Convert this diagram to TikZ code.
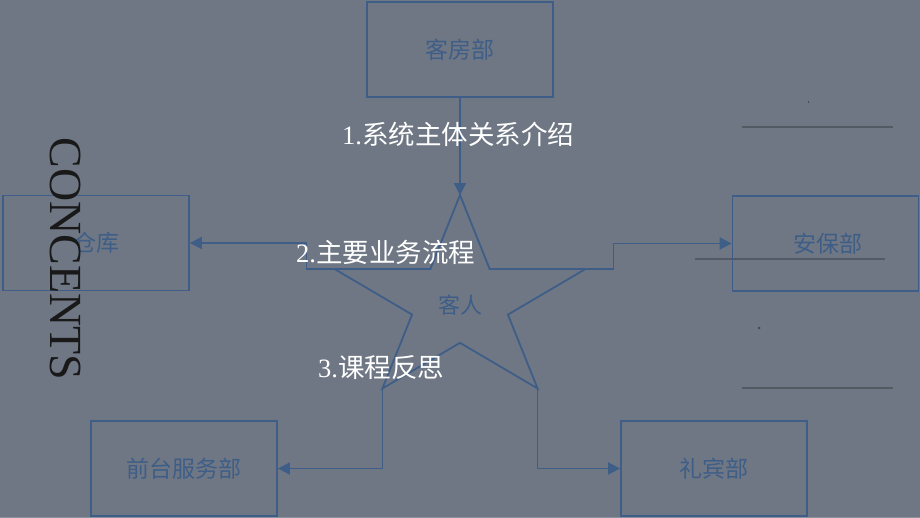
\documentclass[tikz,border=0pt]{standalone}
\usepackage{fontspec}
\setmainfont{Liberation Serif}
\newfontfamily\cjk{Noto Sans CJK SC}
\usetikzlibrary{arrows.meta}
\definecolor{bg}{RGB}{111,119,132}
\definecolor{deptblue}{RGB}{62,94,135}
\definecolor{rulegray}{RGB}{84,90,100}
\tikzset{every picture/.style={x=1pt, y=-1pt}}
\tikzset{deptbox/.style={draw=deptblue, line width=1.8pt, minimum width=186pt, minimum height=95pt,
    text=deptblue, font=\cjk\fontsize{23}{26}\selectfont}}
\tikzset{link/.style={draw=deptblue, line width=1.8pt, -{Triangle[length=12pt, width=12pt]}}}
\tikzset{topic/.style={text=white, inner sep=0pt, anchor=west, font=\fontsize{26.5}{30}\selectfont}}

\begin{document}
\begin{tikzpicture}
\fill[bg] (0,0) rectangle (920,518);
\useasboundingbox (0,0) rectangle (920,518);
\fill[bg!80!white] (0,516.5) rectangle (920,518);

% decorations on the right
\draw[rulegray, line width=1.2pt] (742,127) -- (893,127);
\draw[rulegray, line width=1.2pt] (695,259) -- (885,259);
\draw[rulegray, line width=1.2pt] (742,388) -- (893,388);
\draw[black!70, line width=0.8pt] (808,101) -- (808,103);
\fill[black!70] (759,328) circle (1.5);

% departments
\node[deptbox] (kf) at (460,49.5) {客房部};
\node[deptbox] (ck) at (96,243) {仓库};
\node[deptbox] (ab) at (825.5,243.5) {\hspace*{4pt}安保部};
\node[deptbox] (qt) at (184,468.5) {前台服务部};
\node[deptbox] (lb) at (714,468.5) {礼宾部};

% the star
\foreach \i in {0,...,9} {
    \pgfmathsetmacro{\ang}{90 + 36*\i}
    \pgfmathsetmacro{\rad}{ifthenelse(mod(\i,2)==0, 132, 50.4)}
    \coordinate (p\i) at ({460 + \rad*cos(\ang)}, {302 - 0.81*\rad*sin(\ang)});
}
\draw[deptblue, line width=1.8pt, line join=miter] (p0) \foreach \i in {1,...,9} {-- (p\i)} -- cycle;
\node[text=deptblue, font=\cjk\fontsize{22}{24}\selectfont] (kr) at (460,305) {客人};

% links
\draw[link] (kf.south) -- (p0);
\draw[link] (p2) -- ++(-28,0) |- (ck.east);
\draw[link] (p8) -- ++(28,0) |- (ab.west);
\draw[link] (p4) |- (qt.east);
\draw[link] (p6) |- (lb.west);

% topics
\node[topic] (t1) at (342,134) {1.{\cjk 系统主体关系介绍}};
\node[topic] (t2) at (296,252) {2.{\cjk 主要业务流程}};
\node[topic] (t3) at (318,368) {3.{\cjk 课程反思}};
\node[rotate=-90, text=black!90, font=\fontsize{46}{50}\selectfont] (cc) at (66,259) {CONCENTS};
\end{tikzpicture}
\end{document}
